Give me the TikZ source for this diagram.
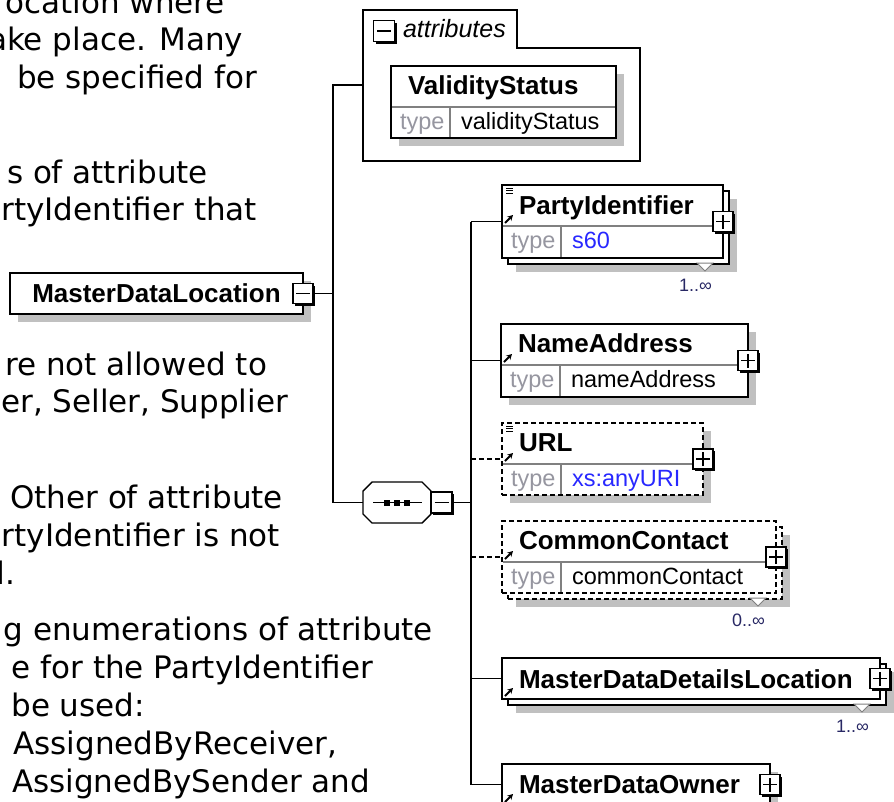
\documentclass[tikz,border=0pt]{standalone}
\usepackage{fontspec}
\setmainfont{Liberation Sans}
\newfontfamily\notefont{DejaVu Sans}
\usetikzlibrary{positioning}
\usetikzlibrary{arrows.meta}
\usetikzlibrary{shadows}

\definecolor{shadowgray}{RGB}{192,192,192}
\definecolor{typegray}{RGB}{150,150,160}
\definecolor{rulegray}{RGB}{128,128,128}
\definecolor{typeblue}{RGB}{40,40,255}
\definecolor{cardnavy}{RGB}{40,40,100}

\tikzset{
    x=1pt, y=-1pt,
    every node/.append style={inner sep=0pt, outer sep=0pt},
    boxbase/.style={
        draw, fill=white, line width=1.6pt, anchor=north west
    },
    elem/.style={
        boxbase,
        general shadow={draw=none, fill=shadowgray, shadow scale=1,
            shadow xshift=8pt, shadow yshift=-8pt}
    },
    multi/.style={
        boxbase,
        general shadow={draw=none, fill=shadowgray, shadow scale=1,
            shadow xshift=14pt, shadow yshift=-14pt},
        general shadow={draw=black, fill=white, line width=1.6pt, shadow scale=1,
            shadow xshift=6pt, shadow yshift=-6pt, #1}
    },
    multi/.default=solid,
    optional/.style={dash pattern=on 5pt off 3pt},
    pm/.style={
        draw, fill=white, line width=1.3pt, minimum size=20pt,
        general shadow={draw=none, fill=black, shadow scale=1,
            shadow xshift=2pt, shadow yshift=-2pt}
    },
    minusbox/.style={
        pm,
        path picture={
            \draw[line width=1.4pt] ([xshift=-7pt]path picture bounding box.center)
                -- ([xshift=7pt]path picture bounding box.center);
        }
    },
    plusbox/.style={
        pm,
        path picture={
            \draw[line width=1.4pt] ([xshift=-7pt]path picture bounding box.center)
                -- ([xshift=7pt]path picture bounding box.center)
                ([yshift=-7pt]path picture bounding box.center)
                -- ([yshift=7pt]path picture bounding box.center);
        }
    },
    elname/.style={font=\bfseries\fontsize{26}{30}\selectfont, anchor=base west},
    typekey/.style={font=\fontsize{23.5}{28}\selectfont, text=typegray, anchor=base west},
    typeval/.style={font=\fontsize{23.5}{28}\selectfont, anchor=base west},
    grouptitle/.style={font=\itshape\fontsize{25}{30}\selectfont, anchor=base west},
    card/.style={font=\fontsize{18}{20}\selectfont, text=cardnavy, anchor=base east},
    note/.style={font=\notefont\fontsize{31}{38}\selectfont, anchor=base east},
    conn/.style={draw, line width=1.6pt},
    group/.style={draw, line width=1.6pt},
    rule/.style={draw=rulegray, line width=1.2pt},
    tri/.style={draw=rulegray, fill=white, line width=1pt},
    refarrow/.style={line width=1.9pt, -{Stealth[length=5.5pt, width=6pt]}}
}

\begin{document}
\begin{tikzpicture}
    \useasboundingbox (0,0) rectangle (894,801);
    \clip (0,0) rectangle (894,801);

    % documentation text, cut at the left edge
    \node[note] (n1) at (225,13) {ocation where};
    \node[note] (n2) at (243,50) {ake place. Many};
    \node[note] (n3) at (257,88) {be specified for};
    \node[note] (n4) at (208,183) {s of attribute};
    \node[note] (n5) at (257,220) {rtyIdentifier that};
    \node[note] (n6) at (267,375) {re not allowed to};
    \node[note] (n7) at (288,412) {er, Seller, Supplier};
    \node[note] (n8) at (283,508) {Other of attribute};
    \node[note] (n9) at (280,546) {rtyIdentifier is not};
    \node[note] (n10) at (15,584) {d.};
    \node[note] (n11) at (433,640) {g enumerations of attribute};
    \node[note] (n12) at (373,678) {e for the PartyIdentifier};
    \node[note] (n13) at (145,716) {be used:};
    \node[note] (n14) at (337,754) {AssignedByReceiver,};
    \node[note] (n15) at (370,792) {AssignedBySender and};

    % root element
    \node[elem, minimum width=293pt, minimum height=41pt,
        font=\bfseries\fontsize{26}{30}\selectfont] (mdl) at (10,273) {MasterDataLocation};
    \node[minusbox] (mdl-m) at (mdl.east) {};

    % attributes
    \draw[group] (363,10) -- (517,10) -- (517,48) -- (640,48) -- (640,161) -- (363,161) -- cycle;
    \coordinate (attr) at (363,85);
    \node[minusbox, minimum size=21pt] (attr-m) at (384,31) {};
    \node[grouptitle] (attr-t) at (403,37) {attributes};
    \node[elem, minimum width=225pt, minimum height=72pt] (vs) at (391,66) {};
    \node[elname] (vs-n) at ([shift={(17,28)}]vs.north west) {ValidityStatus};

    % sequence
    \node[minimum width=68pt, minimum height=41pt] (seq) at (397,502.5) {};
    \fill[shadowgray, shift={(8,8)}] ([xshift=9pt]seq.north west) -- ([xshift=-9pt]seq.north east)
        -- ([yshift=-9pt]seq.north east) -- ([yshift=9pt]seq.south east)
        -- ([xshift=-9pt]seq.south east) -- ([xshift=9pt]seq.south west)
        -- ([yshift=9pt]seq.south west) -- ([yshift=-9pt]seq.north west) -- cycle;
    \draw[fill=white, line width=1.4pt] ([xshift=9pt]seq.north west) -- ([xshift=-9pt]seq.north east)
        -- ([yshift=-9pt]seq.north east) -- ([yshift=9pt]seq.south east)
        -- ([xshift=-9pt]seq.south east) -- ([xshift=9pt]seq.south west)
        -- ([yshift=9pt]seq.south west) -- ([yshift=-9pt]seq.north west) -- cycle;
    \draw[line width=1.2pt] ([xshift=10pt]seq.west) -- ([xshift=-9pt]seq.east);
    \foreach \dx in {24,34,44}
        \fill ([shift={(\dx-3,-3)}]seq.west) rectangle +(6,6);
    \node[minusbox, anchor=west, minimum size=21pt] (seq-m) at (seq.east) {};

    % child elements
    \node[multi, minimum width=221pt, minimum height=73pt] (pid) at (502,185) {};
    \node[elem, minimum width=247pt, minimum height=73pt] (nad) at (501,324) {};
    \node[elem, optional, minimum width=201pt, minimum height=72pt] (url) at (502,423) {};
    \node[multi={dash pattern=on 5pt off 3pt}, optional,
        minimum width=274pt, minimum height=72pt] (cc) at (502,521) {};
    \node[multi, minimum width=378pt, minimum height=41pt] (mddl) at (502,658) {};
    \node[elem, minimum width=268pt, minimum height=41pt] (mdo) at (502,764) {};

    \foreach \b/\t/\dy in {pid/PartyIdentifier/29, nad/NameAddress/28, url/URL/28,
        cc/CommonContact/28, mddl/MasterDataDetailsLocation/30, mdo/MasterDataOwner/29}
        \node[elname] (\b-n) at ([shift={(17,\dy)}]\b.north west) {\t};

    % type rows
    \foreach \b/\t/\c in {vs/validityStatus/black, pid/s60/typeblue, nad/nameAddress/black,
        url/xs:anyURI/typeblue, cc/commonContact/black} {
        \draw[rule] ([shift={(1,41)}]\b.north west) -- ([shift={(-1,41)}]\b.north east)
            ([shift={(59,41)}]\b.north west) -- ([shift={(59,-1)}]\b.south west);
        \node[typekey] (\b-k) at ([shift={(9,63)}]\b.north west) {type};
        \node[typeval, text=\c] (\b-v) at ([shift={(70,63)}]\b.north west) {\t};
    }

    % connectors
    \coordinate (lspine) at (333,293.5);
    \coordinate (rspine) at (471,502.5);
    \draw[conn] (mdl-m.east) -- (lspine);
    \draw[conn] (attr) -| (lspine) |- (seq.west);
    \draw[conn] (seq-m.east) -- (rspine);
    \draw[conn] (pid.west -| rspine) -- (mdo.west -| rspine);
    \foreach \b in {pid,nad,mddl,mdo}
        \draw[conn] (\b.west -| rspine) -- (\b.west);
    \foreach \b in {url,cc}
        \draw[conn, optional] (\b.west -| rspine) -- (\b.west);

    % expand boxes and icons
    \foreach \b in {pid,nad,url,cc,mddl,mdo} {
        \node[plusbox] (\b-p) at (\b.east) {};
        \draw[refarrow] ([shift={(3,38)}]\b.north west) -- ([shift={(11,30)}]\b.north west);
    }
    \foreach \b in {pid,url}
        \foreach \dy in {3,5.5,8}
            \draw[line width=0.9pt] ([shift={(4,\dy)}]\b.north west) -- ([shift={(11,\dy)}]\b.north west);

    % occurrences
    \foreach \b/\m in {pid/1, cc/0, mddl/1} {
        \draw[tri] ([shift={(-26,5)}]\b.south east) -- ([shift={(-18,13)}]\b.south east)
            -- ([shift={(-10,5)}]\b.south east) -- cycle;
        \node[card] (\b-c) at ([shift={(-11,33)}]\b.south east) {\m..∞};
    }
\end{tikzpicture}
\end{document}
